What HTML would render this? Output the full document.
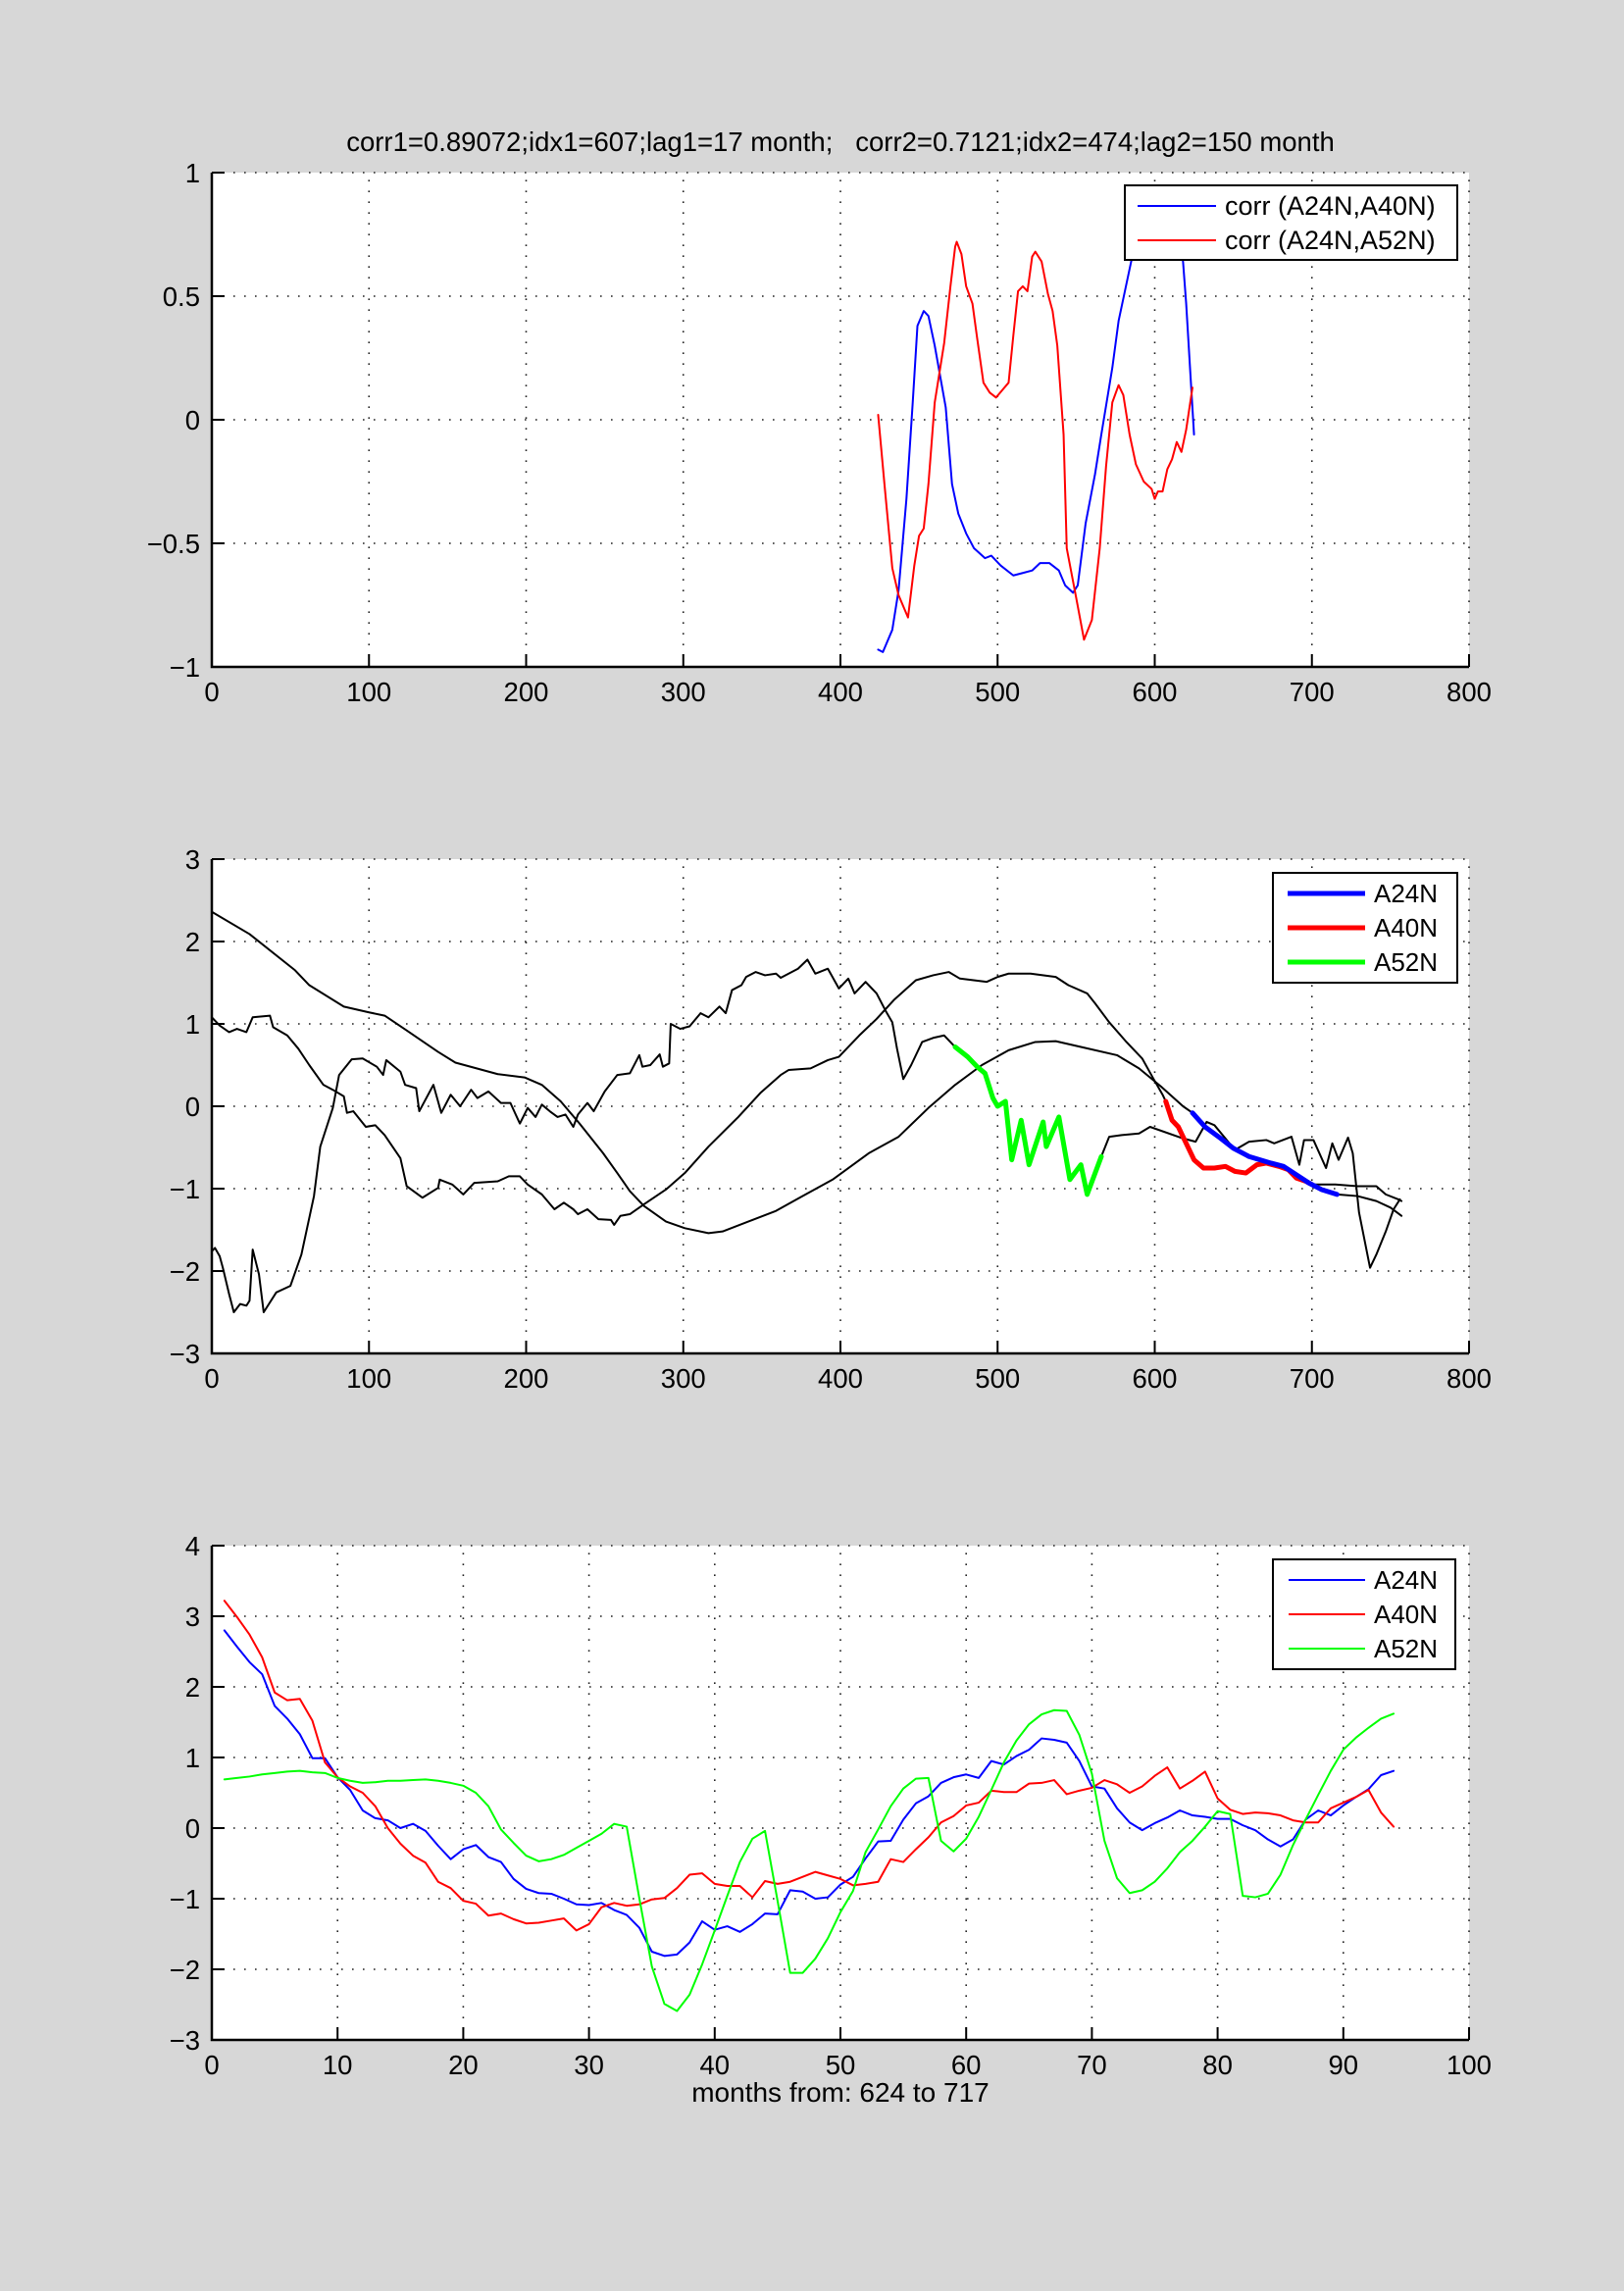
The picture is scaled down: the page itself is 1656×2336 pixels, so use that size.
<!DOCTYPE html>
<html><head><meta charset="utf-8">
<style>
html,body{margin:0;padding:0;background:#d7d7d7;}
svg{display:block;font-family:"Liberation Sans",sans-serif;}
</style></head>
<body>
<svg id="fig" width="1656" height="2336" viewBox="0 0 1656 2336" xmlns="http://www.w3.org/2000/svg">
<rect x="0" y="0" width="1656" height="2336" fill="#d7d7d7"/>
<text x="857" y="154" text-anchor="middle" font-size="27.5" fill="#000" style="white-space:pre" xml:space="preserve">corr1=0.89072;idx1=607;lag1=17 month;   corr2=0.7121;idx2=474;lag2=150 month</text>
<text x="857" y="2143" text-anchor="middle" font-size="28" fill="#000">months from: 624 to 717</text>
</svg>
<script>
// ---------- Plot 1 data ----------
const p1XTicks = [0,100,200,300,400,500,600,700,800];
const p1YTicks = [-1,-0.5,0,0.5,1];
const p1YTickLabels = ["\u22121","\u22120.5","0","0.5","1"];
const corr1X = [424,427,433,437,442,446,449,453,456,460,467,471,475,480,485,492,496,502,510,516,522,527,533,539,543,548,551,556,562,566,573,577,581,585,592,600,607,613,618,620,625];
const corr1Y = [-0.93,-0.94,-0.85,-0.69,-0.32,0.07,0.38,0.44,0.42,0.3,0.05,-0.26,-0.38,-0.46,-0.52,-0.56,-0.55,-0.59,-0.63,-0.62,-0.61,-0.58,-0.58,-0.61,-0.67,-0.7,-0.67,-0.42,-0.22,-0.06,0.21,0.4,0.52,0.64,0.78,0.87,0.89,0.8,0.64,0.47,-0.06];
const corr2X = [424,428,433,437,443,447,450,453,456,460,466,470,473,474,477,480,484,487,491,495,499,503,507,510,513,516,519,522,524,528,532,535,538,542,544,550,555,560,565,569,573,577,580,584,588,593,598,600,602,605,608,611,614,617,620,624];
const corr2Y = [0.02,-0.26,-0.6,-0.71,-0.8,-0.59,-0.47,-0.44,-0.26,0.07,0.31,0.54,0.7,0.72,0.67,0.54,0.47,0.33,0.15,0.11,0.09,0.12,0.15,0.34,0.52,0.54,0.52,0.66,0.68,0.64,0.51,0.44,0.3,-0.06,-0.52,-0.72,-0.89,-0.81,-0.52,-0.19,0.07,0.14,0.1,-0.06,-0.18,-0.25,-0.28,-0.32,-0.29,-0.29,-0.2,-0.16,-0.09,-0.13,-0.04,0.13];

// ---------- Plot 2 data ----------
const p2XTicks = [0,100,200,300,400,500,600,700,800];
const p2YTicks = [-3,-2,-1,0,1,2,3];
const p2YTickLabels = ["\u22123","\u22122","\u22121","0","1","2","3"];
const blackAX = [0,24,53,62,84,100,110,124,144,155,182,199,210,222,234,249,258,266,275,289,301,316,325,344,359,375,395,418,437,456,473,490,507,524,537,553,576,590,604,618,624,632,642,650,660,674,682,690,698,706,716,729,741,750,757];
const blackAY = [2.36,2.09,1.65,1.47,1.21,1.14,1.1,0.92,0.66,0.53,0.39,0.35,0.26,0.06,-0.21,-0.57,-0.81,-1.03,-1.21,-1.4,-1.48,-1.54,-1.52,-1.38,-1.27,-1.1,-0.89,-0.57,-0.37,-0.02,0.26,0.5,0.68,0.78,0.79,0.72,0.62,0.46,0.24,0.0,-0.08,-0.25,-0.39,-0.51,-0.61,-0.69,-0.73,-0.83,-0.93,-1.01,-1.07,-1.09,-1.15,-1.23,-1.33];
const blackBX = [0,5,11,16,22,26,37,39,48,55,62,71,77,84,86,90,98,104,110,120,124,134,144,145,153,160,167,182,189,196,201,210,218,224,230,233,239,246,254,256,260,266,275,289,301,316,335,349,362,367,381,392,399,412,423,434,448,459,469,476,493,500,507,521,537,545,557,562,571,582,592,599,605,607,611,615,620,625,631,638,645,651,658,665,671,679,685,690,696,700,715,729,741,747,755,757];
const blackBY = [1.08,0.98,0.9,0.94,0.9,1.08,1.1,0.96,0.86,0.7,0.5,0.26,0.2,0.12,-0.08,-0.06,-0.25,-0.23,-0.35,-0.63,-0.97,-1.11,-0.99,-0.89,-0.95,-1.07,-0.93,-0.91,-0.85,-0.85,-0.95,-1.07,-1.25,-1.17,-1.25,-1.31,-1.25,-1.37,-1.38,-1.44,-1.33,-1.31,-1.19,-1.01,-0.81,-0.49,-0.13,0.16,0.38,0.44,0.46,0.56,0.6,0.86,1.06,1.29,1.53,1.59,1.63,1.55,1.51,1.57,1.61,1.61,1.57,1.47,1.37,1.25,1.02,0.78,0.58,0.34,0.14,0.06,-0.17,-0.25,-0.45,-0.65,-0.75,-0.75,-0.73,-0.79,-0.81,-0.71,-0.69,-0.73,-0.77,-0.87,-0.91,-0.95,-0.95,-0.97,-0.97,-1.07,-1.13,-1.15];
const blackCX = [0,2,5,7,11,14,18,22,24,26,30,33,41,50,57,65,69,77,81,89,96,105,109,111,120,123,130,132,141,146,152,158,165,169,176,184,190,196,201,206,210,215,220,225,230,233,239,243,250,258,266,272,274,279,285,287,291,292,298,304,311,316,323,327,331,337,340,346,352,359,362,373,379,384,392,399,405,409,416,423,429,433,436,440,445,452,459,466,473,481,487,492,497,500,505,509,515,520,529,531,539,546,553,557,566,571,579,590,597,618,626,633,638,651,660,671,676,687,692,695,701,709,713,717,723,726,730,737,741,747,752,756];
const blackCY = [-1.76,-1.72,-1.82,-1.96,-2.28,-2.5,-2.4,-2.42,-2.36,-1.74,-2.04,-2.5,-2.26,-2.18,-1.8,-1.09,-0.49,-0.02,0.38,0.57,0.58,0.48,0.38,0.56,0.42,0.26,0.22,-0.06,0.26,-0.08,0.14,0.0,0.2,0.1,0.18,0.04,0.04,-0.21,-0.02,-0.13,0.02,-0.06,-0.13,-0.1,-0.25,-0.1,0.04,-0.06,0.18,0.38,0.4,0.62,0.48,0.5,0.63,0.48,0.52,1.0,0.94,0.97,1.13,1.08,1.21,1.13,1.41,1.47,1.57,1.63,1.59,1.61,1.56,1.67,1.78,1.61,1.67,1.43,1.55,1.37,1.51,1.37,1.15,1.02,0.7,0.33,0.5,0.78,0.83,0.86,0.72,0.6,0.48,0.4,0.1,0.0,0.06,-0.65,-0.17,-0.71,-0.19,-0.49,-0.13,-0.89,-0.71,-1.07,-0.61,-0.37,-0.35,-0.33,-0.25,-0.39,-0.43,-0.19,-0.23,-0.53,-0.43,-0.41,-0.45,-0.37,-0.71,-0.41,-0.41,-0.75,-0.45,-0.65,-0.38,-0.57,-1.29,-1.96,-1.8,-1.52,-1.25,-1.13];
const segA24X = [624,632,642,650,660,674,682,690,698,706,716];
const segA24Y = [-0.08,-0.25,-0.39,-0.51,-0.61,-0.69,-0.73,-0.83,-0.93,-1.01,-1.07];
const segA40X = [607,611,615,620,625,631,638,645,651,658,665,671,679,685,690,696,700];
const segA40Y = [0.06,-0.17,-0.25,-0.45,-0.65,-0.75,-0.75,-0.73,-0.79,-0.81,-0.71,-0.69,-0.73,-0.77,-0.87,-0.91,-0.95];
const segA52X = [473,481,487,492,497,500,505,509,515,520,529,531,539,546,553,557,566];
const segA52Y = [0.72,0.6,0.48,0.4,0.1,0.0,0.06,-0.65,-0.17,-0.71,-0.19,-0.49,-0.13,-0.89,-0.71,-1.07,-0.61];

// ---------- Plot 3 data (months 1..94) ----------
const p3XTicks = [0,10,20,30,40,50,60,70,80,90,100];
const p3YTicks = [-3,-2,-1,0,1,2,3,4];
const p3YTickLabels = ["\u22123","\u22122","\u22121","0","1","2","3","4"];
const a24n = [2.80,2.57,2.35,2.18,1.73,1.55,1.33,0.99,0.99,0.72,0.54,0.25,0.14,0.11,0.0,0.06,-0.04,-0.25,-0.44,-0.30,-0.24,-0.41,-0.48,-0.72,-0.86,-0.92,-0.93,-1.0,-1.08,-1.09,-1.06,-1.16,-1.23,-1.41,-1.75,-1.81,-1.79,-1.62,-1.32,-1.44,-1.39,-1.47,-1.36,-1.21,-1.22,-0.88,-0.90,-1.0,-0.98,-0.80,-0.69,-0.43,-0.19,-0.18,0.12,0.35,0.45,0.64,0.72,0.76,0.71,0.95,0.90,1.02,1.11,1.27,1.25,1.21,0.95,0.59,0.56,0.28,0.08,-0.03,0.07,0.15,0.25,0.18,0.16,0.13,0.13,0.04,-0.03,-0.16,-0.26,-0.16,0.12,0.25,0.18,0.32,0.44,0.55,0.75,0.81];
const a40n = [3.22,2.99,2.74,2.42,1.92,1.81,1.83,1.52,0.93,0.72,0.59,0.5,0.31,0.0,-0.22,-0.39,-0.49,-0.76,-0.85,-1.03,-1.07,-1.24,-1.21,-1.29,-1.35,-1.34,-1.31,-1.28,-1.45,-1.36,-1.12,-1.06,-1.1,-1.08,-1.01,-0.99,-0.85,-0.66,-0.64,-0.79,-0.82,-0.82,-0.98,-0.75,-0.79,-0.76,-0.69,-0.62,-0.67,-0.72,-0.81,-0.79,-0.76,-0.44,-0.48,-0.30,-0.13,0.08,0.17,0.32,0.36,0.53,0.51,0.51,0.63,0.64,0.68,0.48,0.53,0.57,0.68,0.62,0.50,0.59,0.74,0.86,0.56,0.67,0.8,0.42,0.26,0.2,0.22,0.21,0.18,0.11,0.08,0.08,0.28,0.36,0.44,0.54,0.22,0.02];
const a52n = [0.69,0.71,0.73,0.76,0.78,0.80,0.81,0.79,0.78,0.71,0.67,0.64,0.65,0.67,0.67,0.68,0.69,0.67,0.64,0.6,0.5,0.31,-0.02,-0.21,-0.39,-0.47,-0.44,-0.38,-0.28,-0.18,-0.08,0.06,0.02,-0.99,-1.96,-2.49,-2.59,-2.36,-1.93,-1.45,-0.96,-0.48,-0.15,-0.04,-1.03,-2.05,-2.05,-1.85,-1.56,-1.19,-0.89,-0.34,-0.02,0.31,0.56,0.70,0.71,-0.18,-0.33,-0.15,0.16,0.54,0.93,1.24,1.47,1.61,1.67,1.66,1.32,0.77,-0.18,-0.71,-0.92,-0.88,-0.76,-0.57,-0.34,-0.18,0.02,0.24,0.2,-0.96,-0.98,-0.93,-0.66,-0.24,0.12,0.47,0.81,1.11,1.28,1.42,1.55,1.62];

const NS = "http://www.w3.org/2000/svg";
const svg = document.getElementById('fig');
function mk(tag, attrs, parent){
  const e = document.createElementNS(NS, tag);
  for (const k in attrs) e.setAttribute(k, attrs[k]);
  (parent||svg).appendChild(e);
  return e;
}
function makeAxes(box, xmin, xmax, ymin, ymax){
  return {
    sx: v => box.x0 + (v - xmin) / (xmax - xmin) * (box.x1 - box.x0),
    sy: v => box.y1 - (v - ymin) / (ymax - ymin) * (box.y1 - box.y0),
    box: box
  };
}
function drawFrame(name, ax, xTicks, yTicks, yLabels){
  const b = ax.box;
  const g = mk('g', {});
  
  
  const bg = mk('rect', {x:b.x0, y:b.y0, width:b.x1-b.x0, height:b.y1-b.y0, fill:'#fff'}, g);
  
  
  xTicks.forEach(t => {
    const x = ax.sx(t);
    const l = mk('line', {x1:x, y1:b.y1, x2:x, y2:b.y0, stroke:'#222', 'stroke-width':1.6, 'stroke-dasharray':'1.6 9.4'}, g);
    
    
  });
  yTicks.forEach(t => {
    const y = ax.sy(t);
    const l = mk('line', {x1:b.x0, y1:y, x2:b.x1, y2:y, stroke:'#222', 'stroke-width':1.6, 'stroke-dasharray':'1.6 9.4'}, g);
    
    
  });
  const axl = mk('path', {d:`M${b.x0},${b.y0} V${b.y1} H${b.x1}`, fill:'none', stroke:'#000', 'stroke-width':2.5}, g);
  
  
  xTicks.forEach(t => {
    const x = ax.sx(t);
    const tk = mk('line', {x1:x, y1:b.y1, x2:x, y2:b.y1-13, stroke:'#000', 'stroke-width':2}, g);
    
    
    const tx = mk('text', {x:x, y:b.y1+35, 'text-anchor':'middle', 'font-size':27.5, fill:'#000'}, g);
    tx.textContent = String(t);
    
    
  });
  yTicks.forEach((t,i) => {
    const y = ax.sy(t);
    const tk = mk('line', {x1:b.x0, y1:y, x2:b.x0+13, y2:y, stroke:'#000', 'stroke-width':2}, g);
    
    
    const tx = mk('text', {x:b.x0-12, y:y+10, 'text-anchor':'end', 'font-size':27.5, fill:'#000'}, g);
    tx.textContent = yLabels[i];
    
    
  });
}
function drawLine(ax, xs, ys, color, w, name){
  const n = Math.min(xs.length, ys.length);
  let d = '';
  for (let i = 0; i < n; i++) d += (i ? 'L' : 'M') + ax.sx(xs[i]).toFixed(2) + ',' + ax.sy(ys[i]).toFixed(2);
  const p = mk('path', {d:d, fill:'none', stroke:color, 'stroke-width':w, 'stroke-linejoin':'round', 'stroke-linecap':'round'});
  
  
  return p;
}
function drawLegend(name, x0, y0, x1, y1, entries, lw, lx0, lx1, tx, fs){
  const g = mk('g', {});
  
  
  mk('rect', {x:x0, y:y0, width:x1-x0, height:y1-y0, fill:'#fff', stroke:'#000', 'stroke-width':2}, g);
  entries.forEach(en => {
    const eg = mk('g', {}, g);
    
    
    mk('line', {x1:lx0, y1:en.y, x2:lx1, y2:en.y, stroke:en.color, 'stroke-width':lw}, eg);
    const t = mk('text', {x:tx, y:en.y+9, 'font-size':fs, fill:'#000'}, eg);
    t.textContent = en.label;
  });
}

const ax1 = makeAxes({x0:216, x1:1498, y0:176, y1:680}, 0, 800, -1, 1);
drawFrame('corr-chart', ax1, p1XTicks, p1YTicks, p1YTickLabels);
drawLine(ax1, corr1X, corr1Y, '#0000ff', 2, 'corr-a24n-a40n-line');
drawLine(ax1, corr2X, corr2Y, '#ff0000', 2, 'corr-a24n-a52n-line');
drawLegend('corr-legend', 1147, 189, 1486, 265,
  [{label:'corr (A24N,A40N)', color:'#0000ff', y:210}, {label:'corr (A24N,A52N)', color:'#ff0000', y:245}],
  2, 1160, 1240, 1249, 27);

const ax2 = makeAxes({x0:216, x1:1498, y0:876, y1:1380}, 0, 800, -3, 3);
drawFrame('series-chart', ax2, p2XTicks, p2YTicks, p2YTickLabels);
drawLine(ax2, blackAX, blackAY, '#000', 2, 'series-black-smooth-line');
drawLine(ax2, blackBX, blackBY, '#000', 2, 'series-black-line-b');
drawLine(ax2, blackCX, blackCY, '#000', 2, 'series-black-line-c');
drawLine(ax2, segA52X, segA52Y, '#00ff00', 5, 'a52n-highlight-segment');
drawLine(ax2, segA40X, segA40Y, '#ff0000', 5, 'a40n-highlight-segment');
drawLine(ax2, segA24X, segA24Y, '#0000ff', 5, 'a24n-highlight-segment');
drawLegend('series-legend', 1298, 890, 1486, 1002,
  [{label:'A24N', color:'#0000ff', y:911}, {label:'A40N', color:'#ff0000', y:946}, {label:'A52N', color:'#00ff00', y:981}],
  5, 1313, 1392, 1401, 26);

const ax3 = makeAxes({x0:216, x1:1498, y0:1576, y1:2080}, 0, 100, -3, 4);
drawFrame('window-chart', ax3, p3XTicks, p3YTicks, p3YTickLabels);
const months = a24n.map((_, i) => i + 1);
drawLine(ax3, months, a24n, '#0000ff', 2, 'window-a24n-line');
drawLine(ax3, months, a40n, '#ff0000', 2, 'window-a40n-line');
drawLine(ax3, months, a52n, '#00ff00', 2, 'window-a52n-line');
drawLegend('window-legend', 1298, 1590, 1484, 1702,
  [{label:'A24N', color:'#0000ff', y:1611}, {label:'A40N', color:'#ff0000', y:1646}, {label:'A52N', color:'#00ff00', y:1681}],
  2, 1314, 1392, 1401, 26);
</script>
</body></html>
